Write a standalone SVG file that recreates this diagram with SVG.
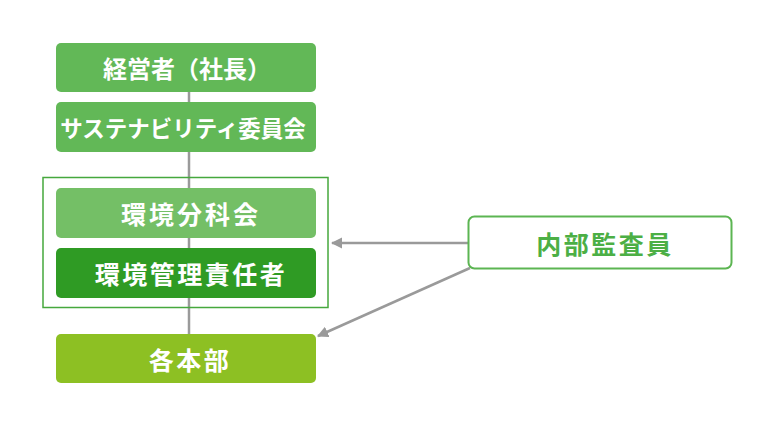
<svg xmlns="http://www.w3.org/2000/svg" width="774" height="428" viewBox="0 0 774 428">
<style>
.t{font-family:"Noto Sans CJK JP","Noto Sans",sans-serif;font-weight:bold;fill:#fff;text-anchor:middle;dominant-baseline:central}
.c{stroke:#9a9a9a;stroke-width:2.5;fill:none}
</style>
<defs>
<marker id="ah" viewBox="0 0 10 10" refX="9" refY="5" markerWidth="4.5" markerHeight="4.5" orient="auto" markerUnits="strokeWidth">
<path d="M0,0 L10,5 L0,10 Z" fill="#9a9a9a"/>
</marker>
</defs>
<rect width="774" height="428" fill="#fff"/>
<g id="connectors">
<line class="c" x1="189" y1="92" x2="189" y2="334"/>
<line class="c" x1="468" y1="243" x2="332" y2="243" marker-end="url(#ah)"/>
<line class="c" x1="470" y1="268" x2="318" y2="336" marker-end="url(#ah)"/>
</g>
<g id="group-env">
<rect x="43" y="177.5" width="285" height="130" fill="none" stroke="#46a83d" stroke-width="1.5"/>
</g>
<g id="n1">
<rect x="56" y="43" width="260" height="49" rx="5" fill="#62b857"/>
<text class="t" x="187" y="67" font-size="24">経営者（社長）</text>
</g>
<g id="n2">
<rect x="56" y="102" width="260" height="50" rx="5" fill="#62b857"/>
<text class="t" x="183" y="127" font-size="22.5">サステナビリティ委員会</text>
</g>
<g id="n3">
<rect x="56" y="188" width="260" height="50" rx="5" fill="#74bf66"/>
<text class="t" x="191" y="213" font-size="25" letter-spacing="3">環境分科会</text>
</g>
<g id="n4">
<rect x="56" y="248" width="260" height="50" rx="5" fill="#2f9b24"/>
<text class="t" x="191" y="273" font-size="25" letter-spacing="2.5">環境管理責任者</text>
</g>
<g id="n5">
<rect x="56" y="334" width="260" height="49" rx="5" fill="#8dc023"/>
<text class="t" x="190" y="358.5" font-size="25" letter-spacing="2.5">各本部</text>
</g>
<g id="n6">
<rect x="468.5" y="216.5" width="263" height="52" rx="6" fill="#fff" stroke="#5cb552" stroke-width="2"/>
<text class="t" x="605" y="242.5" font-size="25" letter-spacing="2.5" style="fill:#4caf45">内部監査員</text>
</g>
</svg>
